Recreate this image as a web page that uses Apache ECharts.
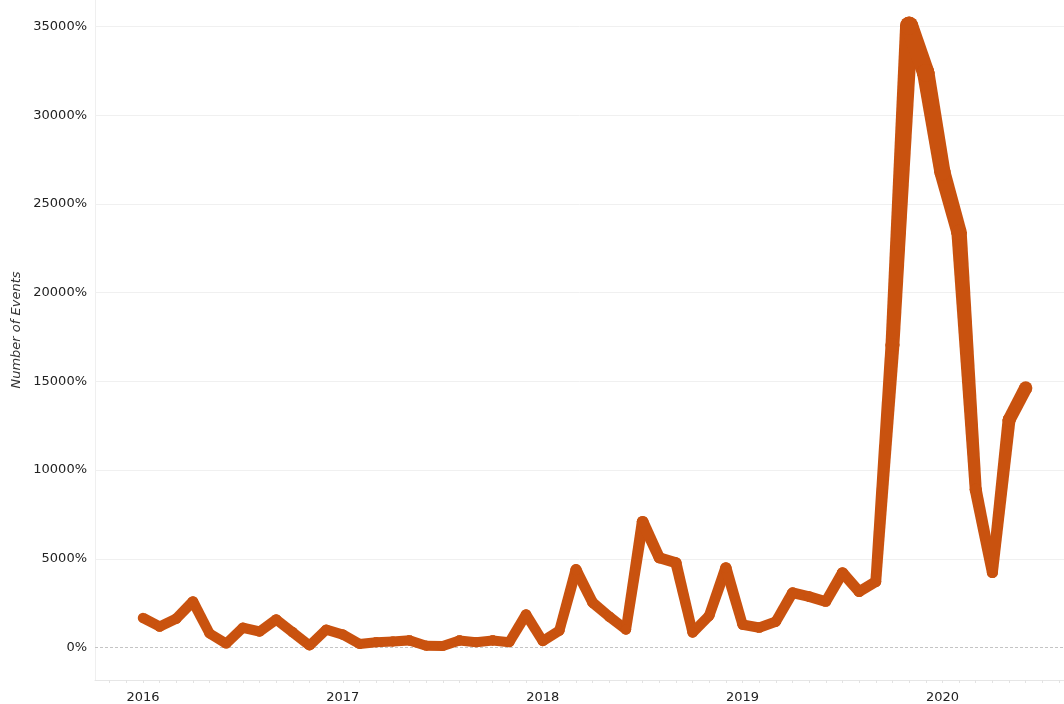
<!DOCTYPE html>
<html>
<head>
<meta charset="utf-8">
<script src="https://cdn.jsdelivr.net/npm/echarts@6/dist/echarts.min.js"></script>
<style>
  html, body { margin: 0; padding: 0; background: #ffffff; }
  #chart { width: 1064px; height: 704px; }
</style>
</head>
<body>
<div id="chart"></div>
<script>
// Monthly values, Jan 2016 .. Jun 2020 (percent)
var months = [
  '2016-01','2016-02','2016-03','2016-04','2016-05','2016-06','2016-07','2016-08','2016-09','2016-10','2016-11','2016-12',
  '2017-01','2017-02','2017-03','2017-04','2017-05','2017-06','2017-07','2017-08','2017-09','2017-10','2017-11','2017-12',
  '2018-01','2018-02','2018-03','2018-04','2018-05','2018-06','2018-07','2018-08','2018-09','2018-10','2018-11','2018-12',
  '2019-01','2019-02','2019-03','2019-04','2019-05','2019-06','2019-07','2019-08','2019-09','2019-10','2019-11','2019-12',
  '2020-01','2020-02','2020-03','2020-04','2020-05','2020-06'
];
var values = [
  1670, 1180, 1630, 2590, 790, 220, 1120, 900, 1580, 850, 110, 1010,
  730, 200, 300, 340, 400, 100, 80, 400, 300, 400, 300, 1860,
  360, 950, 4390, 2530, 1740, 1010, 7090, 5060, 4780, 840, 1800, 4500,
  1290, 1120, 1460, 3090, 2870, 2590, 4220, 3150, 3710, 17050, 35060, 32400,
  26800, 23400, 8890, 4220, 12830, 14630
];
var yTicks = [0, 5000, 10000, 15000, 20000, 25000, 30000, 35000];
var yearLabels = ['2016', '2017', '2018', '2019', '2020'];

// month index helper (0 = Jan 2016)
function monthIndex(s) {
  var p = s.split('-');
  return (parseInt(p[0], 10) - 2016) * 12 + parseInt(p[1], 10) - 1;
}
var yearPositions = yearLabels.map(function (y) { return (parseInt(y, 10) - 2016) * 12; });
var monthTicks = [];
for (var m = -2; m <= 55; m++) monthTicks.push(m);

var segData = [];
for (var i = 0; i < values.length - 1; i++) {
  segData.push([monthIndex(months[i]), values[i], monthIndex(months[i + 1]), values[i + 1]]);
}

var LINE_COLOR = '#c9520f';
function widthOf(v) { return 10 + 8 * v / 35000; }

var chart = echarts.init(document.getElementById('chart'));
chart.setOption({
  animation: false,
  backgroundColor: '#ffffff',
  grid: { left: 95, right: 0, top: 0, bottom: 24, containLabel: false },
  xAxis: {
    type: 'value',
    min: -2.88,
    max: 55.3,
    splitLine: { show: false },
    axisLine: { show: true, onZero: false, lineStyle: { color: '#e6e6e6', width: 1 } },
    axisTick: { show: true, customValues: monthTicks, length: 3, lineStyle: { color: '#e3e3e3' } },
    axisLabel: {
      customValues: yearPositions,
      formatter: function (v) { return String(2016 + Math.round(v / 12)); },
      margin: 11,
      color: '#222222',
      fontFamily: 'DejaVu Sans',
      fontSize: 13
    }
  },
  yAxis: {
    type: 'value',
    min: -1832,
    max: 36500,
    splitLine: { show: false },
    axisLine: { show: true, onZero: false, lineStyle: { color: '#efefef', width: 1 } },
    axisTick: { show: false },
    axisLabel: {
      customValues: yTicks,
      formatter: function (v) { return v + '%'; },
      margin: 8,
      color: '#222222',
      fontFamily: 'DejaVu Sans',
      fontSize: 13
    }
  },
  graphic: [{
    type: 'text',
    x: 17,
    y: 330,
    rotation: Math.PI / 2,
    style: {
      text: 'Number of Events',
      fill: '#333333',
      font: 'italic 13px "DejaVu Sans"',
      align: 'center',
      verticalAlign: 'middle'
    },
    silent: true
  }],
  series: [
    {
      type: 'line',
      data: [],
      silent: true,
      z: 1,
      markLine: {
        silent: true,
        symbol: 'none',
        z: 1,
        label: { show: false },
        data: yTicks.map(function (t) {
          return {
            yAxis: t,
            lineStyle: t === 0
              ? { color: '#c4c4c4', type: [3, 2], width: 1 }
              : { color: '#f0f0f0', type: 'solid', width: 1 }
          };
        })
      }
    },
    {
      type: 'custom',
      data: segData,
      encode: { x: [0, 2], y: [1, 3] },
      clip: false,
      z: 10,
      renderItem: function (params, api) {
        var v1 = api.value(1), v2 = api.value(3);
        var p1 = api.coord([api.value(0), v1]);
        var p2 = api.coord([api.value(2), v2]);
        var w1 = widthOf(v1), w2 = widthOf(v2);
        var dx = p2[0] - p1[0], dy = p2[1] - p1[1];
        var L = Math.sqrt(dx * dx + dy * dy) || 1;
        var nx = -dy / L, ny = dx / L;
        var pts = [
          [p1[0] + nx * w1 / 2, p1[1] + ny * w1 / 2],
          [p2[0] + nx * w2 / 2, p2[1] + ny * w2 / 2],
          [p2[0] - nx * w2 / 2, p2[1] - ny * w2 / 2],
          [p1[0] - nx * w1 / 2, p1[1] - ny * w1 / 2]
        ];
        return {
          type: 'group',
          children: [
            { type: 'polygon', shape: { points: pts }, style: { fill: LINE_COLOR } },
            { type: 'circle', shape: { cx: p1[0], cy: p1[1], r: w1 / 2 }, style: { fill: LINE_COLOR } },
            { type: 'circle', shape: { cx: p2[0], cy: p2[1], r: w2 / 2 }, style: { fill: LINE_COLOR } }
          ]
        };
      }
    }
  ]
});
</script>
</body>
</html>
